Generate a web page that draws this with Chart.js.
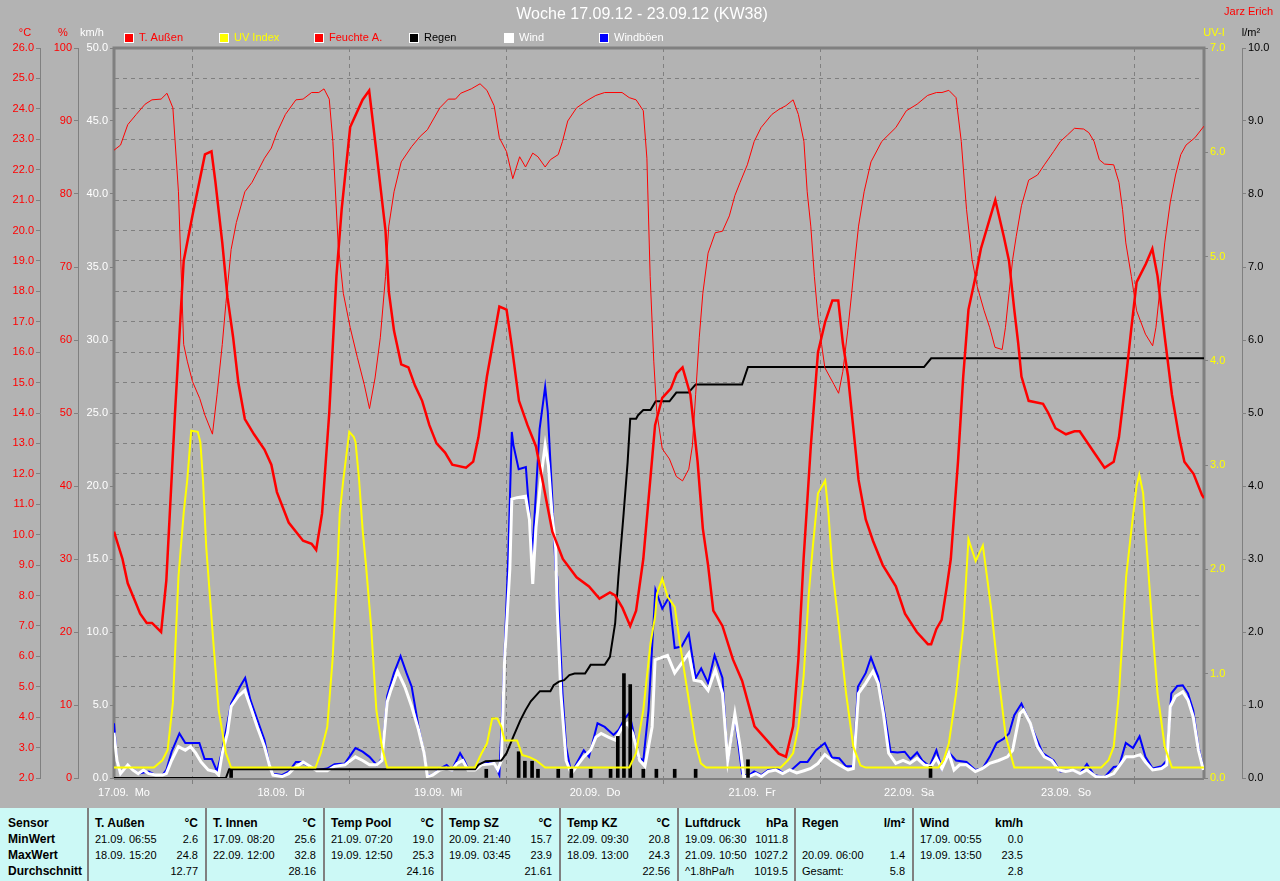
<!DOCTYPE html>
<html>
<head>
<meta charset="utf-8">
<title>Woche 17.09.12 - 23.09.12 (KW38)</title>
<script src="https://cdn.jsdelivr.net/npm/chart.js@4.4.1/dist/chart.umd.min.js"></script>
<style>
  body { margin: 0; background: #b3b3b3; width: 1280px; height: 881px; overflow: hidden; font-family: "Liberation Sans", Arial, sans-serif; }
  #wrap { position: relative; width: 1280px; height: 808px; }
  #stats { position: absolute; left: 0; top: 808px; width: 1280px; height: 73px; background: #ccf9f6; }
  #stats span { position: absolute; line-height: 16px; font-size: 11px; color: #000; white-space: pre; }
  #stats span.b { font-weight: bold; font-size: 12px; }
  #stats div.sep { position: absolute; top: 0; width: 2px; height: 73px; background: #808080; }
</style>
</head>
<body>
<div id="wrap"><canvas id="weekChart" width="1280" height="808"></canvas></div>
<div id="stats"></div>
<script>
// x values are hours since 17.09. 00:00
var dayHours = [0, 24, 48, 72, 96, 120, 144];
var dayLabels = ['17.09.  Mo', '18.09.  Di', '19.09.  Mi', '20.09.  Do', '21.09.  Fr', '22.09.  Sa', '23.09.  So'];

var tempHours = [0, 1.3, 2.1, 4.0, 5.0, 5.8, 7.2, 8.0, 9.3, 10.65, 12.0, 13.9, 14.9, 15.5, 16.55, 17.35, 18.2, 19.0, 20.0, 21.4, 23.0, 24.05, 24.9, 26.7, 28.9, 30.2, 30.9, 31.8, 32.9, 34.0, 34.8, 36.1, 38.0, 39.0, 40.1, 41.5, 42.0, 42.8, 43.9, 45.0, 46.0, 47.1, 48.2, 49.3, 50.6, 51.7, 53.8, 54.9, 55.7, 57.0, 58.9, 60.0, 60.8, 61.9, 63.2, 64.5, 67.0, 68.6, 70.7, 72.6, 74.2, 75.8, 76.6, 77.7, 78.9, 79.8, 80.9, 82.7, 83.8, 85.1, 86.0, 86.9, 88.1, 89.2, 90.0, 90.8, 91.6, 93.0, 94.6, 96.0, 97.9, 101.6, 102.7, 103.8, 104.6, 105.4, 106.5, 107.6, 108.7, 109.8, 110.7, 111.4, 112.2, 113.0, 113.8, 114.9, 116.0, 117.5, 119.5, 120.9, 122.7, 124.4, 124.9, 125.7, 126.5, 127.3, 127.9, 129.0, 129.8, 130.6, 131.7, 132.5, 133.6, 134.7, 136.0, 136.8, 137.6, 138.2, 138.7, 139.8, 142.0, 142.8, 143.9, 145.5, 146.8, 147.6, 149.8, 151.4, 152.8, 153.6, 154.7, 155.5, 156.3, 157.7, 158.7, 159.5, 160.6, 161.7, 162.8, 163.6, 165.0, 166.3, 166.6];
var tempValues = [10.1, 9.2, 8.4, 7.4, 7.1, 7.1, 6.8, 8.5, 13.9, 19.0, 20.5, 22.5, 22.6, 21.6, 19.6, 17.8, 16.5, 15.0, 13.8, 13.3, 12.8, 12.3, 11.4, 10.4, 9.8, 9.7, 9.5, 10.7, 14.0, 18.5, 20.7, 23.4, 24.3, 24.6, 22.6, 20.0, 18.0, 16.7, 15.6, 15.5, 14.9, 14.4, 13.6, 13.0, 12.7, 12.3, 12.2, 12.4, 13.2, 15.2, 17.5, 17.4, 16.2, 14.4, 13.6, 12.9, 10.1, 9.2, 8.6, 8.3, 7.9, 8.1, 8.0, 7.6, 7.0, 7.5, 9.2, 13.6, 14.5, 14.8, 15.3, 15.5, 14.6, 12.4, 10.2, 9.0, 7.5, 7.0, 5.9, 5.2, 3.7, 2.8, 2.7, 3.7, 5.9, 9.2, 12.9, 16.0, 17.0, 17.7, 17.7, 16.3, 15.2, 13.5, 11.8, 10.5, 9.8, 9.0, 8.3, 7.4, 6.8, 6.4, 6.4, 6.9, 7.2, 8.3, 9.2, 12.4, 15.2, 17.4, 18.5, 19.4, 20.2, 21.0, 19.8, 19.0, 17.4, 16.3, 15.2, 14.4, 14.3, 14.0, 13.5, 13.3, 13.4, 13.4, 12.7, 12.2, 12.4, 13.2, 15.2, 16.8, 18.3, 18.9, 19.4, 18.5, 16.5, 14.6, 13.2, 12.4, 12.0, 11.3, 11.2];

var humHours = [0, 1.0, 2.1, 3.4, 4.75, 5.8, 7.2, 8.1, 9.0, 9.85, 10.65, 11.2, 12.0, 13.1, 13.9, 15.05, 15.75, 16.55, 17.1, 17.9, 18.7, 20.0, 21.1, 23.0, 24.05, 24.9, 26.2, 27.8, 28.9, 30.2, 31.3, 32.1, 32.9, 33.45, 34.25, 35.05, 36.1, 37.2, 38.25, 39.05, 39.9, 40.7, 41.5, 42.0, 42.8, 43.9, 45.5, 46.8, 47.9, 49.8, 51.1, 52.2, 53.0, 54.6, 55.95, 57.0, 58.1, 58.9, 60.0, 60.95, 62.0, 62.9, 64.0, 64.8, 65.9, 66.7, 67.9, 68.55, 69.35, 70.7, 72.3, 73.65, 75.0, 77.65, 78.75, 79.8, 80.9, 81.45, 81.95, 82.5, 82.95, 83.8, 84.9, 85.95, 86.9, 87.85, 88.4, 88.9, 89.45, 90.0, 90.8, 91.9, 93.0, 94.05, 94.9, 95.7, 96.8, 97.85, 98.9, 100.55, 101.65, 102.7, 103.8, 104.6, 105.45, 105.95, 106.5, 107.05, 107.6, 108.15, 108.65, 109.5, 110.05, 110.75, 111.4, 112.2, 112.75, 113.25, 113.8, 114.65, 115.7, 117.35, 119.5, 121.1, 122.75, 124.35, 125.7, 126.55, 127.6, 128.7, 129.5, 130.3, 131.15, 131.95, 133.0, 133.85, 134.65, 135.75, 136.25, 136.8, 137.35, 137.9, 138.7, 139.8, 141.15, 142.2, 143.6, 144.65, 145.75, 146.8, 148.2, 149.0, 149.8, 150.6, 151.4, 152.8, 153.6, 154.15, 154.65, 155.5, 156.3, 157.65, 158.75, 159.25, 159.8, 160.6, 161.45, 162.25, 163.05, 163.85, 165.2, 166.6];
var humValues = [86.0, 86.7, 89.5, 90.9, 92.3, 92.9, 93.0, 93.8, 91.8, 80.3, 59.4, 57.1, 54.3, 52.0, 49.7, 47.1, 52.5, 59.4, 65.0, 72.4, 76.1, 80.3, 81.6, 84.9, 86.3, 88.4, 90.9, 92.9, 93.0, 93.9, 93.9, 94.4, 93.0, 87.2, 73.3, 66.4, 61.7, 57.6, 53.9, 50.6, 54.8, 60.3, 68.7, 75.6, 80.3, 84.4, 86.5, 87.9, 88.8, 91.8, 93.0, 93.0, 93.8, 94.4, 95.1, 94.2, 92.1, 87.7, 85.8, 82.1, 85.1, 83.7, 85.6, 85.1, 83.7, 84.7, 85.4, 87.2, 90.0, 91.8, 92.8, 93.5, 93.9, 93.9, 93.2, 92.9, 91.4, 84.9, 68.7, 57.1, 50.2, 45.1, 43.7, 41.3, 40.7, 42.3, 45.5, 52.5, 60.3, 66.4, 71.9, 74.7, 74.9, 77.0, 79.8, 81.6, 84.0, 87.2, 89.1, 90.9, 91.6, 92.1, 92.9, 90.9, 87.2, 80.3, 75.6, 68.7, 63.1, 59.4, 56.2, 54.8, 53.9, 52.7, 55.7, 61.7, 66.4, 71.0, 75.6, 80.3, 84.4, 87.2, 89.1, 91.4, 92.3, 93.5, 93.9, 93.9, 94.2, 93.2, 87.2, 77.9, 71.0, 67.3, 64.0, 61.7, 59.0, 58.7, 61.7, 66.4, 71.0, 74.2, 78.4, 81.9, 82.6, 84.0, 85.8, 87.2, 88.1, 89.0, 88.9, 88.4, 87.2, 84.7, 84.1, 84.0, 81.6, 77.9, 73.3, 68.7, 64.0, 60.8, 59.2, 61.7, 66.4, 73.3, 78.9, 82.6, 85.4, 86.7, 87.7, 89.3];

var uvHours = [0, 6.1, 7.4, 8.2, 9.0, 9.85, 10.65, 11.2, 11.8, 12.8, 13.2, 13.6, 14.1, 15.2, 16.0, 17.1, 17.9, 30.8, 31.6, 32.6, 33.4, 34.2, 34.5, 35.05, 35.96, 36.66, 36.92, 37.46, 38.0, 38.5, 39.3, 40.1, 40.95, 41.75, 55.15, 56.2, 57.0, 57.8, 58.6, 59.2, 59.7, 61.6, 62.4, 63.5, 64.5, 65.9, 78.75, 79.8, 80.9, 82.0, 82.7, 83.0, 83.8, 84.6, 85.7, 86.5, 87.3, 88.1, 88.9, 89.7, 90.5, 101.9, 103.0, 103.8, 104.6, 105.4, 106.2, 106.8, 107.6, 108.7, 109.2, 109.8, 110.8, 111.9, 113.0, 114.1, 114.9, 126.0, 126.8, 127.6, 128.7, 129.8, 130.6, 131.7, 132.8, 134.1, 135.2, 136.3, 137.6, 150.9, 152.0, 152.8, 153.6, 154.7, 155.5, 156.3, 156.7, 157.3, 157.65, 158.7, 159.5, 160.6, 161.7, 166.6];
var uvValues = [0.1, 0.1, 0.17, 0.27, 0.72, 1.93, 2.54, 2.86, 3.33, 3.32, 3.22, 2.86, 2.21, 1.29, 0.65, 0.24, 0.1, 0.1, 0.24, 0.49, 1.13, 2.09, 2.54, 2.86, 3.32, 3.27, 3.22, 2.86, 2.38, 2.05, 1.45, 0.65, 0.3, 0.1, 0.1, 0.24, 0.33, 0.57, 0.57, 0.49, 0.36, 0.36, 0.22, 0.2, 0.17, 0.1, 0.1, 0.24, 0.65, 1.29, 1.55, 1.77, 1.91, 1.74, 1.64, 1.29, 0.97, 0.65, 0.33, 0.14, 0.1, 0.1, 0.17, 0.24, 0.49, 0.97, 1.77, 2.21, 2.73, 2.85, 2.54, 2.0, 1.45, 0.81, 0.3, 0.12, 0.1, 0.1, 0.17, 0.33, 0.81, 1.45, 2.29, 2.08, 2.23, 1.61, 0.97, 0.4, 0.1, 0.1, 0.17, 0.3, 0.81, 1.93, 2.38, 2.8, 2.91, 2.73, 2.38, 1.45, 0.81, 0.3, 0.1, 0.1];

var rainHours = [0, 17.1, 17.6, 55.2, 55.7, 56.8, 59.2, 60.0, 61.05, 62.1, 62.9, 63.7, 65.1, 66.7, 67.2, 68.0, 68.8, 69.6, 70.4, 72.0, 72.85, 75.0, 75.8, 76.6, 77.1, 77.9, 78.5, 78.9, 79.8, 80.1, 80.9, 82.0, 82.8, 84.9, 85.95, 87.8, 88.9, 96.0, 96.9, 123.8, 124.9, 166.6];
var rainValues = [0, 0, 0.12, 0.12, 0.18, 0.23, 0.24, 0.34, 0.57, 0.79, 0.93, 1.05, 1.19, 1.19, 1.27, 1.32, 1.34, 1.41, 1.43, 1.43, 1.55, 1.55, 1.66, 2.12, 2.76, 3.63, 4.32, 4.92, 4.92, 4.97, 5.04, 5.04, 5.16, 5.16, 5.28, 5.28, 5.39, 5.39, 5.63, 5.63, 5.75, 5.75];

var rainBarHours = [17.9, 56.9, 61.85, 62.8, 63.9, 64.8, 67.9, 69.9, 72.85, 75.9, 77.0, 77.94, 78.9, 80.9, 82.9, 85.7, 88.9, 96.9, 124.8];
var rainBarValues = [0.12, 0.12, 0.36, 0.23, 0.23, 0.12, 0.12, 0.12, 0.12, 0.12, 0.57, 1.43, 1.28, 0.12, 0.12, 0.12, 0.12, 0.25, 0.16];

var windHours = [0, 0.45, 1.0, 2.1, 2.9, 3.7, 4.5, 5.3, 6.4, 7.4, 8.0, 8.8, 9.85, 10.9, 11.7, 12.5, 13.3, 14.4, 15.5, 16.0, 16.55, 17.35, 17.9, 19.0, 20.0, 20.85, 21.9, 23.0, 23.8, 24.3, 25.7, 26.7, 27.5, 28.9, 29.95, 31.0, 32.6, 33.7, 35.3, 36.9, 38.0, 39.05, 40.15, 40.95, 41.75, 42.3, 43.35, 44.45, 45.5, 46.55, 47.4, 47.9, 48.7, 49.8, 50.85, 51.65, 52.45, 53.3, 54.1, 55.15, 56.2, 57.3, 58.1, 58.65, 59.2, 59.7, 60.5, 60.8, 61.6, 62.9, 63.5, 64.0, 64.5, 65.35, 65.9, 66.4, 66.95, 67.5, 67.75, 68.3, 69.1, 69.9, 70.7, 71.8, 72.85, 73.65, 74.45, 75.55, 76.6, 77.7, 78.5, 79.3, 80.35, 81.15, 82.25, 82.7, 84.6, 85.7, 86.75, 87.85, 88.65, 89.75, 90.8, 91.9, 93.0, 93.8, 94.9, 95.7, 96.25, 97.05, 98.1, 98.95, 100.0, 101.1, 102.2, 103.25, 104.35, 105.45, 106.5, 107.6, 108.65, 109.75, 110.85, 112.2, 113.0, 113.8, 114.9, 116.0, 116.8, 117.6, 118.4, 119.5, 120.6, 121.65, 122.75, 123.85, 124.9, 125.7, 126.55, 127.6, 128.4, 129.25, 130.3, 131.65, 132.75, 133.85, 135.2, 136.55, 137.35, 138.45, 139.0, 140.05, 141.15, 142.2, 143.3, 144.4, 145.45, 146.55, 147.65, 148.7, 150.05, 151.4, 152.8, 153.6, 154.65, 155.75, 156.85, 157.65, 158.75, 160.1, 160.9, 161.45, 162.25, 163.35, 164.15, 164.95, 165.75, 166.5];
var windValues = [3.1, 1.2, 0.3, 0.9, 0.55, 0.3, 0.55, 0.3, 0.2, 0.2, 0.3, 1.2, 2.15, 1.9, 2.15, 1.7, 1.1, 0.55, 0.43, 0.2, 1.7, 3.1, 4.9, 5.6, 6.0, 4.9, 3.5, 2.15, 0.8, 0.2, 0.1, 0.3, 0.65, 1.1, 0.8, 0.5, 0.5, 0.8, 0.9, 1.45, 1.2, 0.9, 0.9, 1.2, 5.2, 6.0, 7.3, 6.25, 4.9, 3.3, 1.7, 0.1, 0.2, 0.55, 0.65, 0.55, 1.0, 1.2, 0.55, 0.55, 0.9, 0.95, 1.0, 0.55, 1.2, 8.1, 14.3, 19.1, 19.2, 19.3, 17.7, 13.3, 17.2, 20.9, 22.8, 21.4, 18.1, 15.8, 11.5, 5.8, 1.2, 0.3, 0.8, 1.45, 1.9, 2.8, 3.05, 2.8, 2.6, 3.5, 3.75, 3.05, 1.2, 0.8, 3.5, 8.1, 8.4, 7.2, 7.85, 8.55, 6.7, 6.6, 6.0, 7.4, 5.8, 1.2, 4.4, 2.15, 0.1, 0.1, 0.3, 0.1, 0.45, 0.55, 0.3, 0.55, 0.35, 0.5, 0.65, 1.0, 1.6, 1.2, 0.9, 0.55, 0.65, 5.8, 6.5, 7.3, 6.5, 4.4, 1.7, 1.0, 1.2, 1.0, 1.35, 0.9, 0.8, 1.35, 0.65, 1.7, 0.55, 0.9, 0.9, 0.45, 0.65, 1.0, 1.2, 1.45, 1.9, 4.4, 4.65, 3.75, 2.15, 1.45, 1.2, 0.55, 0.45, 0.55, 0.3, 0.55, 0.1, 0.05, 0.3, 0.8, 1.45, 1.45, 1.6, 1.1, 0.55, 0.65, 0.9, 4.9, 5.6, 5.9, 5.35, 4.2, 1.9, 0.55];

var gustHours = [0, 0.45, 1.0, 2.1, 3.7, 5.3, 6.4, 7.4, 8.0, 8.8, 10.0, 10.9, 13.05, 13.85, 14.95, 15.75, 16.55, 17.9, 19.25, 20.05, 20.85, 21.9, 23.0, 23.8, 24.3, 25.65, 26.75, 27.8, 28.6, 29.4, 31.0, 32.6, 33.7, 35.3, 36.9, 38.0, 39.05, 40.15, 40.95, 41.75, 42.8, 43.8, 44.7, 45.5, 46.55, 47.4, 47.9, 48.7, 49.8, 50.85, 51.65, 52.9, 53.55, 54.1, 55.15, 56.25, 57.3, 58.1, 58.9, 59.45, 60.25, 60.8, 61.05, 61.85, 62.95, 63.2, 63.75, 64.0, 64.55, 65.05, 65.9, 66.3, 66.95, 67.5, 67.75, 68.55, 69.1, 69.9, 70.7, 71.8, 72.6, 73.9, 75.0, 76.35, 77.15, 77.95, 78.75, 79.55, 80.1, 80.9, 81.7, 82.75, 83.8, 84.85, 85.7, 86.75, 87.85, 88.9, 89.75, 90.8, 91.8, 93.0, 93.8, 94.9, 96.0, 96.8, 97.85, 98.95, 100.0, 101.35, 102.2, 103.55, 104.9, 106.0, 107.3, 108.65, 109.75, 110.85, 111.9, 113.0, 113.7, 114.9, 115.7, 116.8, 117.6, 118.7, 119.75, 120.85, 121.75, 122.75, 123.55, 124.65, 125.7, 126.55, 127.6, 128.7, 130.3, 131.65, 132.75, 133.85, 134.9, 136.0, 136.8, 137.6, 138.7, 139.8, 140.85, 141.95, 143.6, 144.65, 146.55, 147.65, 148.7, 149.8, 151.4, 152.8, 153.6, 154.65, 155.75, 156.75, 157.65, 158.75, 160.1, 160.9, 161.6, 162.5, 163.35, 164.15, 164.95, 165.75, 166.5];
var gustValues = [3.75, 1.2, 0.3, 0.9, 0.3, 0.45, 0.2, 0.2, 0.55, 1.8, 3.05, 2.4, 2.4, 1.3, 1.3, 0.45, 1.9, 5.1, 6.25, 6.85, 5.35, 4.0, 2.6, 0.8, 0.3, 0.2, 0.45, 1.1, 1.1, 0.9, 0.55, 0.65, 0.95, 1.0, 2.05, 1.8, 1.45, 0.9, 1.35, 5.6, 7.2, 8.35, 7.2, 6.25, 3.5, 1.7, 0.2, 0.2, 0.65, 0.9, 0.55, 1.7, 1.2, 0.65, 0.6, 1.0, 1.05, 1.05, 0.2, 5.8, 15.0, 23.7, 22.8, 21.15, 21.3, 19.8, 16.5, 15.8, 20.0, 23.9, 26.8, 25.1, 19.5, 14.25, 13.8, 5.8, 2.15, 0.3, 1.0, 1.9, 1.45, 3.75, 3.5, 2.95, 3.3, 4.0, 4.45, 2.85, 1.45, 1.2, 4.65, 12.9, 11.6, 12.4, 8.9, 9.0, 9.9, 6.85, 7.5, 6.5, 8.4, 6.85, 1.2, 4.2, 0.3, 0.1, 0.45, 0.2, 0.55, 0.65, 0.35, 0.55, 1.1, 1.1, 1.9, 2.4, 1.4, 1.35, 0.8, 0.8, 6.25, 7.2, 8.25, 6.95, 4.9, 1.8, 1.75, 1.8, 1.3, 1.75, 1.2, 0.8, 1.9, 0.65, 1.75, 1.2, 1.1, 0.55, 0.65, 1.45, 2.4, 2.7, 3.05, 4.3, 5.1, 4.0, 2.85, 1.7, 1.2, 0.45, 0.55, 0.3, 0.95, 0.2, 0.05, 0.75, 0.8, 2.4, 2.05, 2.85, 1.45, 0.65, 0.8, 1.2, 5.8, 6.3, 6.35, 5.8, 4.65, 2.15, 0.65];

var legendLabels = ['T. Außen', 'UV Index', 'Feuchte A.', 'Regen', 'Wind', 'Windböen'];
var legendColors = ['#ff0000', '#ffff00', '#ff0000', '#000000', '#ffffff', '#0000ff'];
var legendTextColors = ['#ff0000', '#ffff00', '#ff0000', '#000000', '#ffffff', '#ffffff'];

var statNames = ['T. Außen', 'T. Innen', 'Temp Pool', 'Temp SZ', 'Temp KZ', 'Luftdruck', 'Regen', 'Wind'];
var statUnits = ['°C', '°C', '°C', '°C', '°C', 'hPa', 'l/m²', 'km/h'];
var minStamps = ['21.09. 06:55', '17.09. 08:20', '21.09. 07:20', '20.09. 21:40', '22.09. 09:30', '19.09. 06:30', '', '17.09. 00:55'];
var minValues = ['2.6', '25.6', '19.0', '15.7', '20.8', '1011.8', '', '0.0'];
var maxStamps = ['18.09. 15:20', '22.09. 12:00', '19.09. 12:50', '19.09. 03:45', '18.09. 13:00', '21.09. 10:50', '20.09. 06:00', '19.09. 13:50'];
var maxValues = ['24.8', '32.8', '25.3', '23.9', '24.3', '1027.2', '1.4', '23.5'];
var avgNotes = ['', '', '', '', '', '^1.8hPa/h', 'Gesamt:', ''];
var avgValues = ['12.77', '28.16', '24.16', '21.61', '22.56', '1019.5', '5.8', '2.8'];
var rowLabels = ['Sensor', 'MinWert', 'MaxWert', 'Durchschnitt'];

function points(xs, ys) {
  return xs.map(function(x, i) { return {x: x, y: ys[i]}; });
}

var tickFont = {family: '"Liberation Sans", Arial, sans-serif', size: 11};

function valueAxis(pos, min, max, step, color, width, weight, digits, onArea) {
  return {
    type: 'linear', position: pos, min: min, max: max, weight: weight,
    afterFit: function(s) { s.width = width; },
    ticks: {
      stepSize: step, autoSkip: false, color: color, padding: 2, font: tickFont,
      callback: function(v) { return Number(v).toFixed(digits); }
    },
    grid: {drawOnChartArea: onArea, color: '#808080', tickColor: '#808080', tickLength: 4, tickBorderDash: []},
    border: {display: true, color: '#808080', width: 1, dash: onArea ? [4, 4] : []}
  };
}

var decor = {
  id: 'decor',
  beforeDatasetsDraw: function(chart) {
    var a = chart.chartArea, ctx = chart.ctx;
    ctx.save();
    ctx.strokeStyle = '#808080';
    ctx.lineWidth = 2;
    ctx.beginPath();
    ctx.moveTo(a.left, a.bottom + 1); ctx.lineTo(a.right, a.bottom + 1);
    ctx.stroke();
    ctx.lineWidth = 3;
    ctx.beginPath();
    ctx.moveTo(a.left, a.bottom + 1); ctx.lineTo(a.left, a.top);
    ctx.lineTo(a.right, a.top); ctx.lineTo(a.right, a.bottom + 1);
    ctx.stroke();
    ctx.restore();
  },
  afterDraw: function(chart) {
    var ctx = chart.ctx;
    ctx.save();
    ctx.textBaseline = 'middle';
    ctx.font = '16px "Liberation Sans", Arial, sans-serif';
    ctx.textAlign = 'center';
    ctx.fillStyle = '#ffffff';
    ctx.fillText('Woche 17.09.12 - 23.09.12 (KW38)', 642, 15);

    ctx.font = '11px "Liberation Sans", Arial, sans-serif';
    ctx.textAlign = 'right';
    ctx.fillStyle = '#ff0000';
    ctx.fillText('Jarz Erich', 1273, 12);

    ctx.textAlign = 'center';
    ctx.fillStyle = '#ff0000';
    ctx.fillText('°C', 25, 33);
    ctx.fillText('%', 63, 33);
    ctx.fillStyle = '#ffffff';
    ctx.fillText('km/h', 92, 33);
    ctx.fillStyle = '#ffff00';
    ctx.fillText('UV-I', 1214, 33);
    ctx.fillStyle = '#000000';
    ctx.fillText('l/m²', 1251, 33);

    ctx.textAlign = 'left';
    legendLabels.forEach(function(t, i) {
      var x = 124 + i * 95;
      ctx.fillStyle = '#ffffff';
      ctx.fillRect(x, 33, 10, 10);
      ctx.fillStyle = legendColors[i];
      ctx.fillRect(x + 1, 34, 8, 8);
      ctx.fillStyle = legendTextColors[i];
      ctx.fillText(t, x + 15, 38);
    });
    ctx.restore();
  }
};

function buildStats() {
  var box = document.getElementById('stats');
  var rowTop = [7, 23, 39, 55];
  function put(text, left, top, bold, right) {
    if (!text) return;
    var s = document.createElement('span');
    s.textContent = text;
    if (bold) s.className = 'b';
    if (right) { s.style.right = (1280 - left) + 'px'; } else { s.style.left = left + 'px'; }
    s.style.top = top + 'px';
    box.appendChild(s);
  }
  rowLabels.forEach(function(t, r) { put(t, 8, rowTop[r], true); });
  statNames.forEach(function(name, c) {
    var x0 = Math.round(88 + c * 117.9);
    var sep = document.createElement('div');
    sep.className = 'sep';
    sep.style.left = (x0 - 1) + 'px';
    box.appendChild(sep);
    put(name, x0 + 7, rowTop[0], true);
    put(statUnits[c], x0 + 110, rowTop[0], true, true);
    [minStamps[c], maxStamps[c]].forEach(function(st, k) {
      if (!st) return;
      var p = st.split(' ');
      put(p[0], x0 + 7, rowTop[k + 1]);
      put(p[1], x0 + 41, rowTop[k + 1]);
    });
    put(minValues[c], x0 + 110, rowTop[1], false, true);
    put(maxValues[c], x0 + 110, rowTop[2], false, true);
    put(avgNotes[c], x0 + 7, rowTop[3]);
    put(avgValues[c], x0 + 110, rowTop[3], false, true);
  });
}

document.addEventListener('DOMContentLoaded', function() {
  buildStats();
  var ctx = document.getElementById('weekChart').getContext('2d');
  new Chart(ctx, {
    type: 'line',
    data: {
      datasets: [
        {label: 'T. Außen', data: points(tempHours, tempValues), yAxisID: 'yT', borderColor: '#ff0000', borderWidth: 2.5},
        {label: 'UV Index', data: points(uvHours, uvValues), yAxisID: 'yUV', borderColor: '#ffff00', borderWidth: 2},
        {label: 'Feuchte A.', data: points(humHours, humValues), yAxisID: 'yH', borderColor: '#ff0000', borderWidth: 1},
        {label: 'Regen', data: points(rainHours, rainValues), yAxisID: 'yR', borderColor: '#000000', borderWidth: 2},
        {type: 'bar', label: 'Regen/Intervall', data: points(rainBarHours, rainBarValues), yAxisID: 'yR',
         backgroundColor: '#000000', barThickness: 3, grouped: false},
        {label: 'Wind', data: points(windHours, windValues), yAxisID: 'yW', borderColor: '#ffffff', borderWidth: 3},
        {label: 'Windböen', data: points(gustHours, gustValues), yAxisID: 'yW', borderColor: '#0000ff', borderWidth: 2}
      ]
    },
    options: {
      responsive: false,
      animation: false,
      events: [],
      layout: {padding: {top: 48, left: 0, right: 0, bottom: 0}},
      elements: {point: {radius: 0}, line: {tension: 0, fill: false}},
      plugins: {legend: {display: false}, tooltip: {enabled: false}},
      scales: {
        x: {
          type: 'linear', min: 0, max: 166.6, offset: false,
          afterFit: function(s) { s.height = 30; },
          afterBuildTicks: function(s) { s.ticks = dayHours.map(function(h) { return {value: h}; }); },
          ticks: {
            color: '#ffffff', font: tickFont, padding: 2, labelOffset: 10, maxRotation: 0, autoSkip: false,
            callback: function(v) { return dayLabels[dayHours.indexOf(v)]; }
          },
          grid: {color: '#808080', tickColor: '#808080', tickLength: 6, tickBorderDash: []},
          border: {display: false, dash: [4, 4]}
        },
        yT: valueAxis('left', 2, 26, 1, '#ff0000', 40, 3, 1, true),
        yH: valueAxis('left', 0, 100, 10, '#ff0000', 38, 2, 0, false),
        yW: valueAxis('left', 0, 50, 5, '#ffffff', 36, 1, 1, false),
        yUV: valueAxis('right', 0, 7, 1, '#ffff00', 38, 0, 1, false),
        yR: valueAxis('right', 0, 10, 1, '#000000', 38, 1, 1, false)
      }
    },
    plugins: [decor]
  });
});
</script>
</body>
</html>
